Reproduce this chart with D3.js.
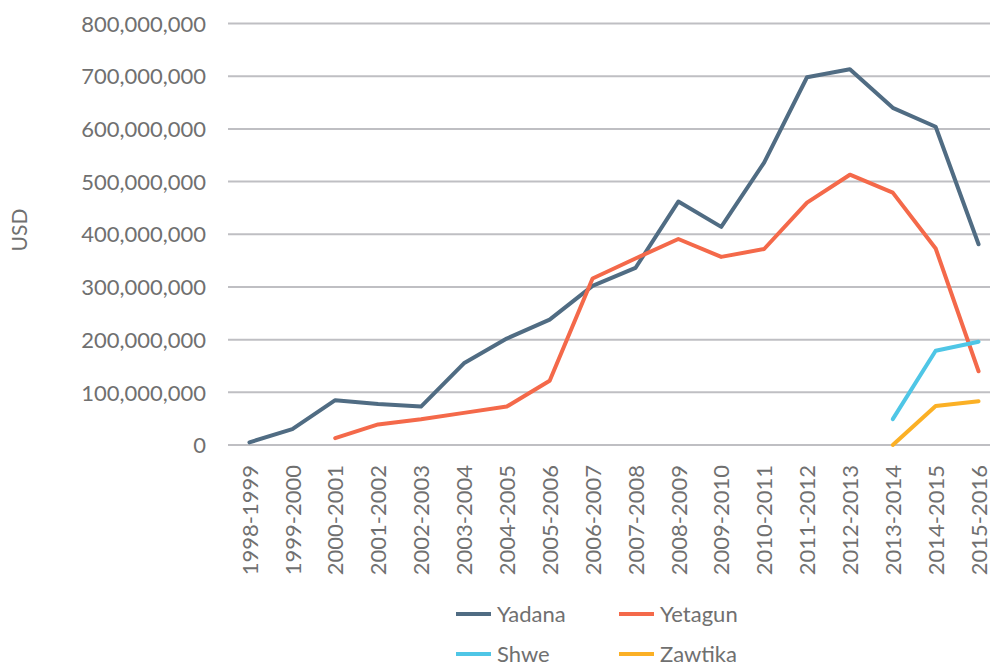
<!DOCTYPE html>
<html>
<head>
<meta charset="utf-8">
<script src="https://cdn.jsdelivr.net/npm/d3@7"></script>
<style>
  body { margin: 0; background: #fff; }
  svg { display: block; font-family: Lato, "Open Sans", sans-serif; }
</style>
</head>
<body>
<svg id="chart" width="990" height="666"></svg>
<script>
const years = ['1998-1999', '1999-2000', '2000-2001', '2001-2002', '2002-2003', '2003-2004',
  '2004-2005', '2005-2006', '2006-2007', '2007-2008', '2008-2009', '2009-2010',
  '2010-2011', '2011-2012', '2012-2013', '2013-2014', '2014-2015', '2015-2016'];

// values in USD, null = no data
const yadana = [5e6, 30e6, 85e6, 78e6, 73e6, 155e6, 202e6, 238e6, 302e6, 336e6, 462e6, 414e6,
  536e6, 698e6, 713e6, 640e6, 604e6, 381e6];
const yetagun = [null, null, 13e6, 39e6, 49e6, 61e6, 73e6, 122e6, 316e6, 354e6, 391e6, 357e6,
  372e6, 460e6, 513e6, 479e6, 373e6, 140e6];
const shwe = [null, null, null, null, null, null, null, null, null, null, null, null,
  null, null, null, 49e6, 179e6, 196e6];
const zawtika = [null, null, null, null, null, null, null, null, null, null, null, null,
  null, null, null, 0, 74e6, 83e6];

const yTicks = [0, 1e8, 2e8, 3e8, 4e8, 5e8, 6e8, 7e8, 8e8];

const series = [
  {name: 'Yadana', values: yadana, color: '#506c83'},
  {name: 'Yetagun', values: yetagun, color: '#f4694a'},
  {name: 'Shwe', values: shwe, color: '#4fc6e6'},
  {name: 'Zawtika', values: zawtika, color: '#fbb025'}
];

const svg = d3.select('#chart');
const textColor = '#707070';

const x = d3.scalePoint().domain(years).range([228, 1000]).padding(0.5);
const y = d3.scaleLinear().domain([0, 8e8]).range([445, 23.5]);

// gridlines
svg.append('g').selectAll('line').data(yTicks).enter().append('line')
  .attr('x1', 228).attr('x2', 990)
  .attr('y1', d => y(d)).attr('y2', d => y(d))
  .attr('stroke', '#bfbfc3').attr('stroke-width', 2);

// y axis labels
const yAxis = svg.append('g').attr('transform', 'translate(206,0)')
  .call(d3.axisLeft(y).tickValues(yTicks).tickSize(0).tickPadding(0)
    .tickFormat(d3.format(',')));
yAxis.select('.domain').remove();
yAxis.selectAll('text').attr('fill', textColor).style('font-size', '22px')
  .style('font-family', 'Lato, sans-serif').attr('dy', '0.35em');

svg.append('text').text('USD')
  .attr('transform', 'translate(27,230) rotate(-90)')
  .attr('text-anchor', 'middle')
  .attr('fill', textColor).style('font-size', '21px');

// x axis labels
const xAxis = svg.append('g').attr('transform', 'translate(0,445)')
  .call(d3.axisBottom(x).tickSize(0).tickPadding(0));
xAxis.select('.domain').remove();
xAxis.selectAll('text')
  .attr('transform', 'translate(0,20) rotate(-90)')
  .attr('text-anchor', 'end').attr('x', 0).attr('y', 0).attr('dy', '0.35em')
  .attr('fill', textColor).style('font-size', '22px')
  .style('font-family', 'Lato, sans-serif');

// lines
const line = d3.line()
  .defined(d => d.v !== null)
  .x(d => x(d.year))
  .y(d => y(d.v));

svg.append('g').selectAll('path').data(series).enter().append('path')
  .attr('d', s => line(years.map((yr, i) => ({year: yr, v: s.values[i]}))))
  .attr('fill', 'none')
  .attr('stroke', d => d.color)
  .attr('stroke-width', 4)
  .attr('stroke-linejoin', 'round')
  .attr('stroke-linecap', 'round');

// legend
const legendPos = [[456, 614], [619, 614], [456, 654], [619, 654]];
const legend = svg.append('g').selectAll('g').data(series).enter().append('g')
  .attr('transform', (d, i) => `translate(${legendPos[i][0]},${legendPos[i][1]})`);
legend.append('line').attr('x1', 0).attr('x2', 35).attr('y1', 0).attr('y2', 0)
  .attr('stroke', d => d.color).attr('stroke-width', 4);
legend.append('text').text(d => d.name)
  .attr('x', 41).attr('dy', '0.35em')
  .attr('fill', textColor).style('font-size', '22px');
</script>
</body>
</html>
